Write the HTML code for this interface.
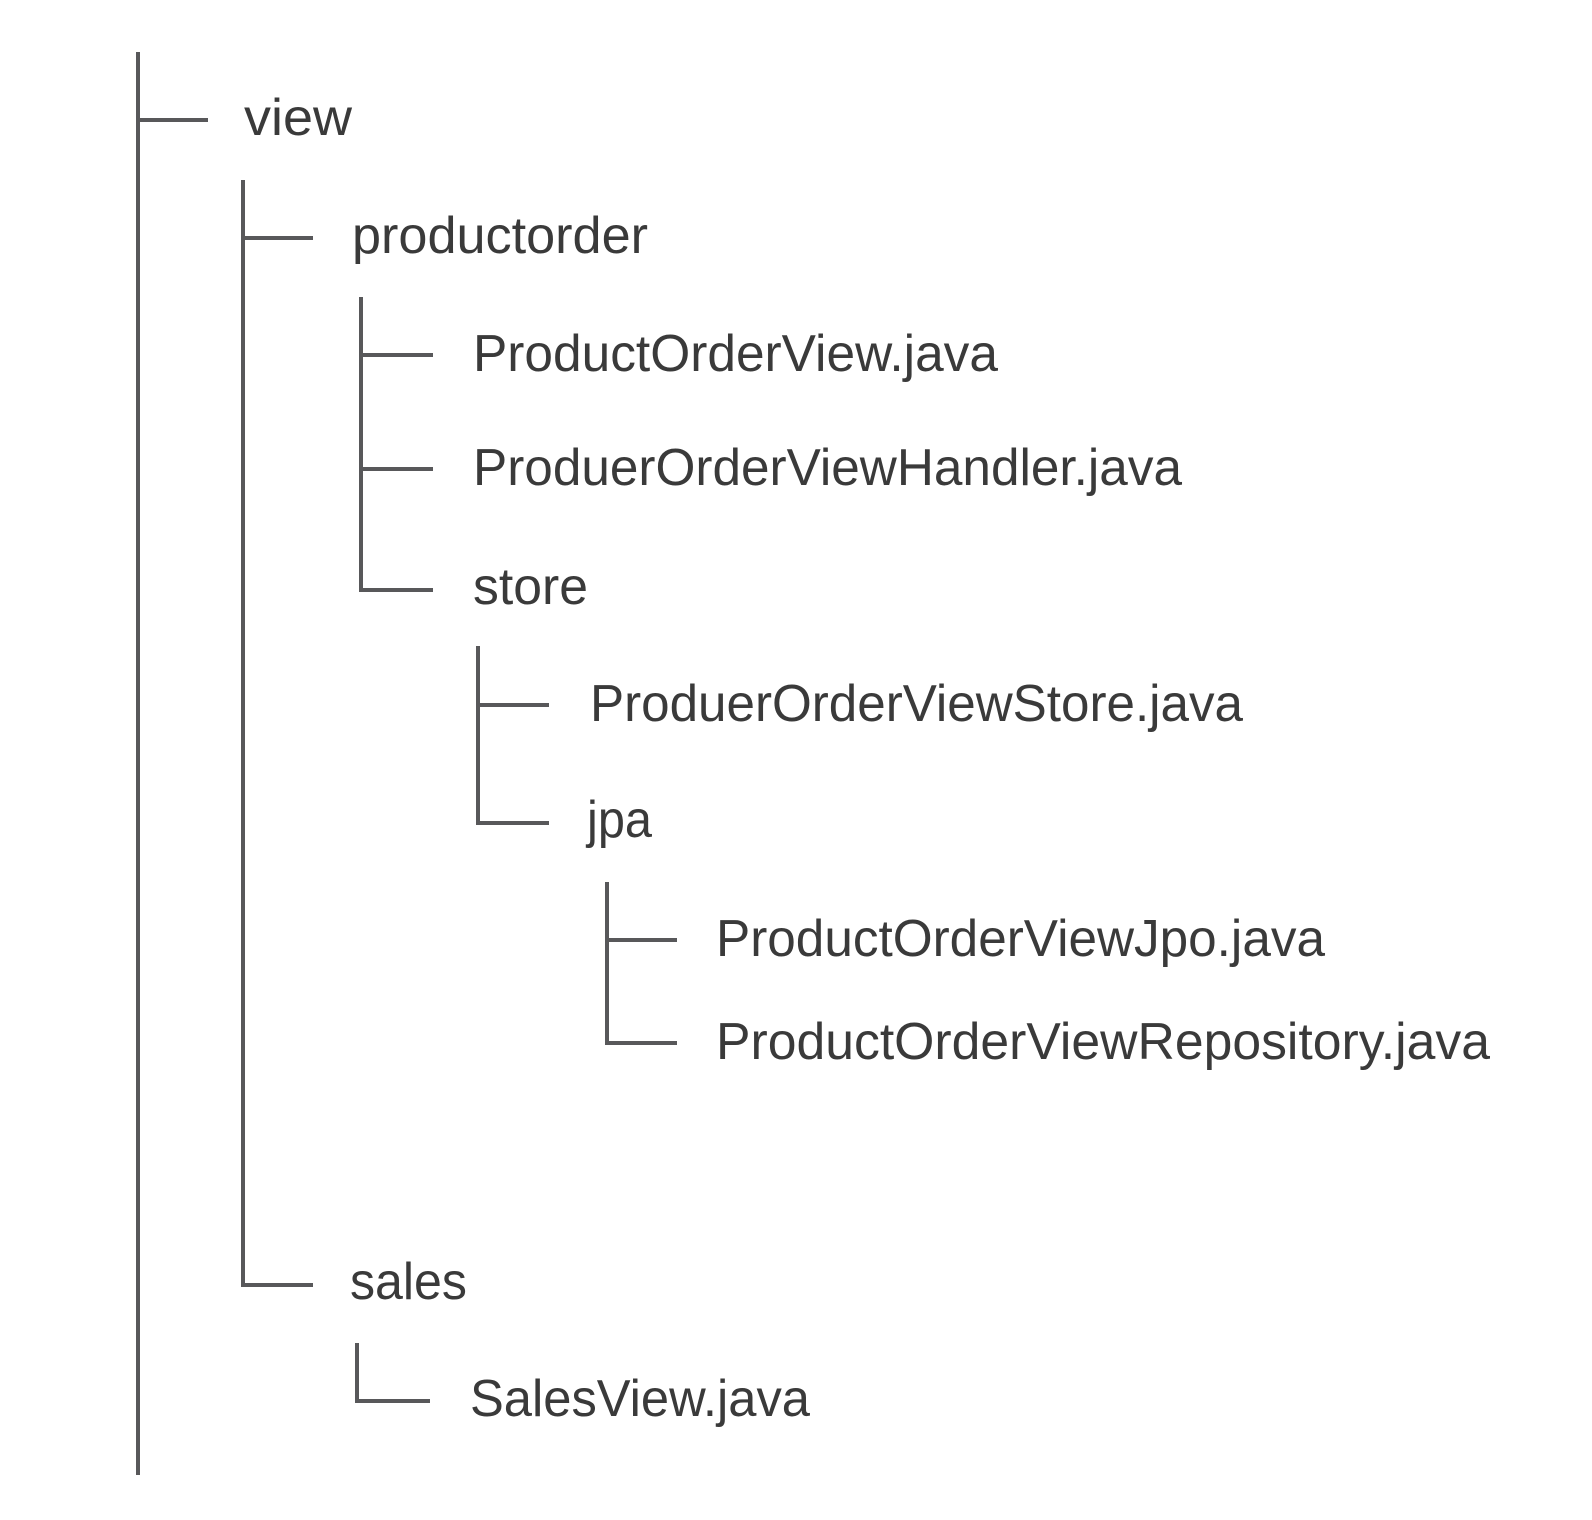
<!DOCTYPE html>
<html><head><meta charset="utf-8"><style>html,body{margin:0;padding:0;background:#fff}svg{display:block}</style></head>
<body>
<svg width="1592" height="1520" viewBox="0 0 1592 1520" xmlns="http://www.w3.org/2000/svg">
<g stroke="#58585a" stroke-width="4" fill="none">
<path d="M138 52V1475"/>
<path d="M138 120H208"/>
<path d="M243 180V1285H313M243 238H313"/>
<path d="M361 297V590H433M361 355H433M361 469H433"/>
<path d="M478 646V823H549M478 705H549"/>
<path d="M607 882V1043H677M607 940H677"/>
<path d="M357 1343V1401H430"/>
</g>
<g font-family="Liberation Sans, sans-serif" font-size="52" fill="#3a3a3a" lengthAdjust="spacingAndGlyphs">
<text x="244" y="135" textLength="108" lengthAdjust="spacingAndGlyphs">view</text>
<text x="352" y="253" textLength="296" lengthAdjust="spacingAndGlyphs">productorder</text>
<text x="473" y="371" textLength="525" lengthAdjust="spacingAndGlyphs">ProductOrderView.java</text>
<text x="473" y="485" textLength="709" lengthAdjust="spacingAndGlyphs">ProduerOrderViewHandler.java</text>
<text x="473" y="604" textLength="115" lengthAdjust="spacingAndGlyphs">store</text>
<text x="590" y="721" textLength="653" lengthAdjust="spacingAndGlyphs">ProduerOrderViewStore.java</text>
<text x="587" y="837" textLength="65" lengthAdjust="spacingAndGlyphs">jpa</text>
<text x="716" y="956" textLength="609" lengthAdjust="spacingAndGlyphs">ProductOrderViewJpo.java</text>
<text x="716" y="1059" textLength="774" lengthAdjust="spacingAndGlyphs">ProductOrderViewRepository.java</text>
<text x="350" y="1299" textLength="117" lengthAdjust="spacingAndGlyphs">sales</text>
<text x="470" y="1416" textLength="340" lengthAdjust="spacingAndGlyphs">SalesView.java</text>
</g>
</svg>
</body></html>
